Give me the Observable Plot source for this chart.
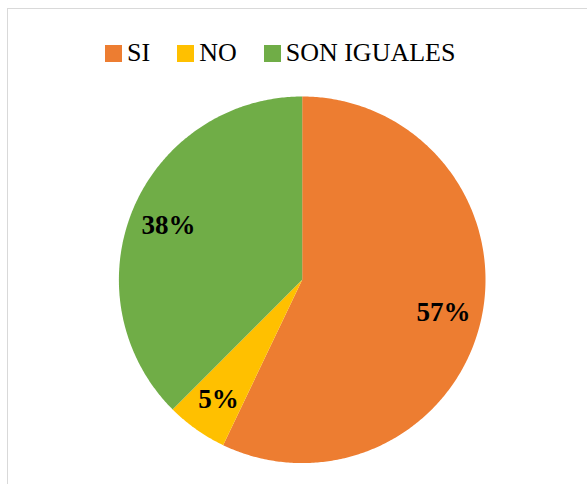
<!DOCTYPE html>
<html>
<head>
<meta charset="utf-8">
<script src="https://cdn.jsdelivr.net/npm/d3@7"></script>
<script src="https://cdn.jsdelivr.net/npm/@observablehq/plot@0.6"></script>
<style>
  html, body { margin: 0; padding: 0; background: #fff; }
  #wrap { position: relative; width: 587px; height: 484px; overflow: hidden; background: #fff; }
  #frame { position: absolute; left: 7px; top: 8px; right: -2px; bottom: -2px;
           border-top: 1px solid #d9d9d9; border-left: 1px solid #d9d9d9; }
  #legend { position: absolute; left: 105px; top: 40px; height: 26px; display: flex; align-items: center;
            font-family: 'Liberation Serif', Tinos, 'Times New Roman', Times, 'DejaVu Serif', serif; font-size: 26px; line-height: 26px; color: #000; }
  .item { display: flex; align-items: center; margin-right: 27px; }
  .sw { width: 17px; height: 17px; margin-right: 5px; }
  #chart { position: absolute; left: 0; top: 96px; }
  #chart text { font-family: 'Liberation Serif', Tinos, 'Times New Roman', Times, 'DejaVu Serif', serif; }
</style>
</head>
<body>
<div id="wrap">
  <div id="frame"></div>
  <div id="legend"></div>
  <div id="chart"></div>
</div>
<script>
const categories = ["SI", "NO", "SON IGUALES"];
const values = [57.1, 5.4, 37.5];
const labels = ["57%", "5%", "38%"];
const colors = ["#ED7D31", "#FFC000", "#70AD47"];

// legend
const legend = document.getElementById("legend");
categories.forEach((c, i) => {
  const it = document.createElement("div");
  it.className = "item";
  const sw = document.createElement("span");
  sw.className = "sw";
  sw.style.background = colors[i];
  const tx = document.createElement("span");
  tx.textContent = c;
  it.appendChild(sw); it.appendChild(tx);
  legend.appendChild(it);
});

// pie geometry from data
const arcs = d3.pie().sort(null).value(d => d)(values);
const polys = [];
arcs.forEach((a, i) => {
  const cat = categories[i];
  polys.push({cat, x: 0, y: 0});
  const n = Math.max(8, Math.ceil((a.endAngle - a.startAngle) / 0.01));
  for (let k = 0; k <= n; k++) {
    const t = a.startAngle + (a.endAngle - a.startAngle) * k / n;
    polys.push({cat, x: Math.sin(t), y: Math.cos(t)});
  }
  polys.push({cat, x: 0, y: 0});
});
const labelR = 0.79;
const labelData = arcs.map((a, i) => {
  const m = (a.startAngle + a.endAngle) / 2;
  return {label: labels[i], x: labelR * Math.sin(m), y: labelR * Math.cos(m)};
});

const chart = Plot.plot({
  width: 587,
  height: 388,
  margin: 0,
  x: {domain: [-1, 1], range: [118.4, 485.0], axis: null},
  y: {domain: [-1, 1], range: [366.6, 0], axis: null},
  color: {domain: categories, range: colors},
  marks: [
    Plot.line(polys, {x: "x", y: "y", z: "cat", fill: "cat", stroke: null, curve: "linear"}),
    Plot.text(labelData, {x: "x", y: "y", text: "label", fontSize: 27, fontWeight: "bold",
      fill: "#000", textAnchor: "middle", dy: 1})
  ],
  style: {background: "transparent", overflow: "visible"}
});
document.getElementById("chart").appendChild(chart);
</script>
</body>
</html>
